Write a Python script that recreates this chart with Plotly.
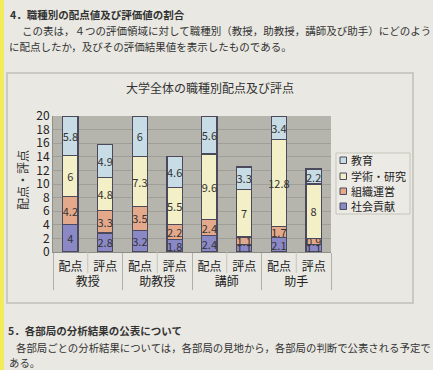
import plotly.graph_objects as go

groups = ["教授", "教授", "助教授", "助教授", "講師", "講師", "助手", "助手"]
kinds = ["配点", "評点", "配点", "評点", "配点", "評点", "配点", "評点"]

shakai = [4, 2.8, 3.2, 1.8, 2.4, 1.1, 2.1, 1.1]
soshiki = [4.2, 3.3, 3.5, 2.2, 2.4, 1.1, 1.7, 0.9]
gakujutsu = [6, 4.8, 7.3, 5.5, 9.6, 7, 12.8, 8]
kyoiku = [5.8, 4.9, 6, 4.6, 5.6, 3.3, 3.4, 2.2]

series = [
    ("社会貢献", shakai, "#8b88c6"),
    ("組織運営", soshiki, "#e4a98b"),
    ("学術・研究", gakujutsu, "#f3efc6"),
    ("教育", kyoiku, "#c7dce4"),
]

y_ticks = [0, 2, 4, 6, 8, 10, 12, 14, 16, 18, 20]

font = "Noto Sans CJK JP"
outline = "#4a4a5c"

# layout geometry (pixels)
W, H = 433, 370
L, R, T, B = 53, 102, 116, 118
PW, PH = W - L - R, H - T - B


def px(x):
    return (x - L) / PW


def py(y):
    return (H - B - y) / PH


fig = go.Figure()
for name, vals, col in series:
    fig.add_trace(go.Bar(
        x=[groups, kinds], y=vals, name=name,
        marker=dict(color=col, line=dict(color=outline, width=1.2)),
        text=[f"{v:g}" for v in vals], textposition="inside", textangle=0,
        insidetextanchor="middle", constraintext="none",
        textfont=dict(family=font, size=11, color="#333333"),
        cliponaxis=False, showlegend=False,
    ))

shapes = [
    dict(type="rect", xref="paper", yref="paper", x0=px(7), x1=px(413),
         y0=py(303), y1=py(73), line=dict(color="#c0c0b8", width=1.5),
         fillcolor="rgba(0,0,0,0)", layer="below"),
    dict(type="rect", xref="paper", yref="paper", x0=px(-2), x1=px(4),
         y0=py(372), y1=py(-2), line=dict(width=0), fillcolor="#f2ec5a"),
    # legend box
    dict(type="rect", xref="paper", yref="paper", x0=px(336), x1=px(410),
         y0=py(214), y1=py(153), line=dict(color="#c4c4bc", width=1),
         fillcolor="#eceae4"),
]
# short separators between 配点 / 評点 inside each group (first label row only)
n_cat = len(kinds)
for k in range(1, n_cat, 2):
    xx = k / n_cat
    shapes.append(dict(type="line", xref="paper", yref="paper", x0=xx, x1=xx,
                       y0=py(273), y1=0, line=dict(color="#c4c4bc", width=1)))

annotations = []
legend_rows = [160, 176, 191, 206]
for (name, vals, col), ry in zip(reversed(series), legend_rows):
    shapes.append(dict(type="rect", xref="paper", yref="paper",
                       x0=px(340), x1=px(346.5), y0=py(ry + 3.5), y1=py(ry - 3),
                       line=dict(color=outline, width=1), fillcolor=col))
    annotations.append(dict(text=name, xref="paper", yref="paper",
                            x=px(349), y=py(ry), xanchor="left", yanchor="middle",
                            showarrow=False, font=dict(size=11, color="#222")))


def note(text, x, y, size=10.5, xanchor="left", **kw):
    return dict(text=text, xref="paper", yref="paper", x=px(x), y=py(y),
                xanchor=xanchor, yanchor="middle", showarrow=False,
                font=dict(size=size, color="#333"), **kw)


annotations += [
    note("大学全体の職種別配点及び評点", 210, 87, size=12, xanchor="center"),
    note("配点・評点", 22, 180, size=12, xanchor="center", textangle=-90),
    note("<b>4．職種別の配点値及び評価値の割合</b>", 8, 14),
    note("この表は，４つの評価領域に対して職種別（教授，助教授，講師及び助手）にどのよう", 20, 30),
    note("に配点したか，及びその評価結果値を表示したものである。", 7, 46),
    note("<b>5．各部局の分析結果の公表について</b>", 6, 330),
    note("各部局ごとの分析結果については，各部局の見地から，各部局の判断で公表される予定で", 14, 347, size=10.4),
    note("ある。", 7, 362, size=10.4),
]

fig.update_layout(
    barmode="stack", bargap=0.56,
    width=W, height=H,
    paper_bgcolor="#e9e8e2", plot_bgcolor="#b6b5ad",
    margin=dict(l=L, r=R, t=T, b=B, autoexpand=False),
    font=dict(family=font, color="#222222"),
    showlegend=False,
    shapes=shapes,
    annotations=annotations,
)

fig.update_yaxes(
    range=[0, 20], tickvals=y_ticks, showgrid=True, gridcolor="#9f9e97",
    gridwidth=1, zeroline=False, tickfont=dict(size=12, color="#222"),
    ticks="", showline=True, linecolor="#8f8e88",
)
fig.update_xaxes(
    type="multicategory", tickangle=0, tickfont=dict(size=12, color="#222"),
    showdividers=True, dividercolor="#b0b0a8", dividerwidth=1,
    showline=True, linecolor="#8f8e88",
    ticks="", ticklabelstandoff=4,
)

fig.write_html("out.html", config={"displayModeBar": False},
               post_script="document.body.style.margin='0px';")
